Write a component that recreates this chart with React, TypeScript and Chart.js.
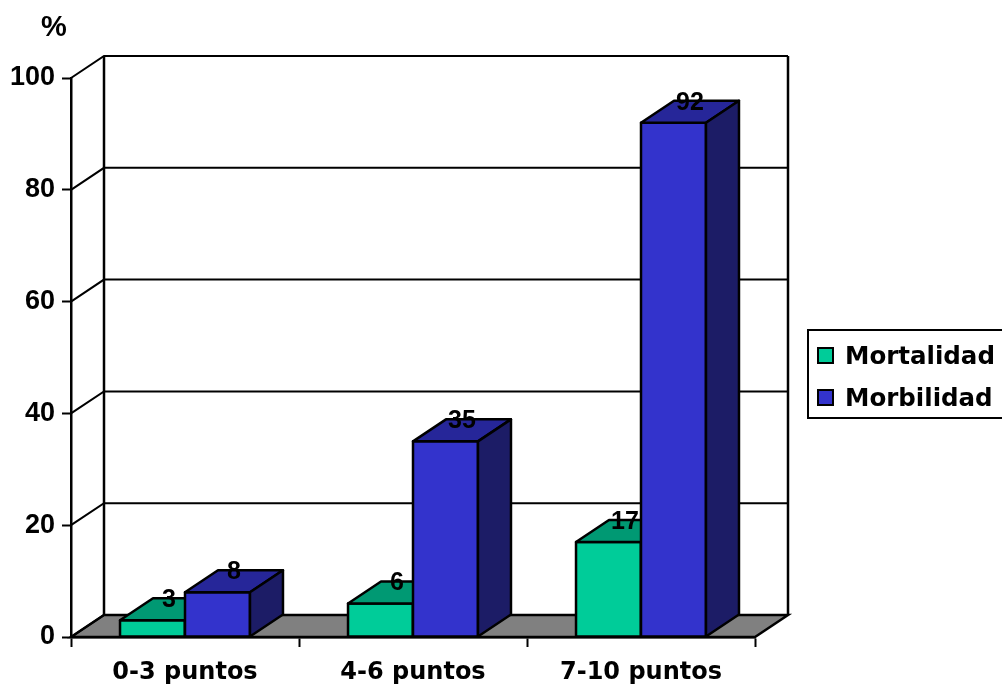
import { useEffect, useRef } from "react";
import { Chart, registerables } from "chart.js";

Chart.register(...registerables);

// Data
const categories = ["0-3 puntos", "4-6 puntos", "7-10 puntos"];
const seriesNames = ["Mortalidad", "Morbilidad"];
const mortalidad = [3, 6, 17];
const morbilidad = [8, 35, 92];
const yTicks = [0, 20, 40, 60, 80, 100];

// 3D look: depth offset of the boxes and walls
const DX = 33;
const DY = -22;
const faceColors = ["#00CC99", "#3333CC"];
const topColors = ["#009973", "#262699"];
const sideColors = ["#00664D", "#1C1C66"];

const NUM_FONT = "'Liberation Sans', Arial, sans-serif";
const TXT_FONT = "'DejaVu Sans', sans-serif";

const box3d = {
  id: "box3d",
  beforeDatasetsDraw(chart: any) {
    const { ctx, chartArea: a, scales } = chart;
    const ys = scales.y;
    ctx.save();
    ctx.lineWidth = 2;
    ctx.strokeStyle = "#000";
    ctx.lineJoin = "miter";
    // floor
    ctx.fillStyle = "#808080";
    ctx.beginPath();
    ctx.moveTo(a.left, a.bottom);
    ctx.lineTo(a.right, a.bottom);
    ctx.lineTo(a.right + DX, a.bottom + DY);
    ctx.lineTo(a.left + DX, a.bottom + DY);
    ctx.closePath();
    ctx.fill();
    ctx.lineWidth = 2.5;
    ctx.stroke();
    ctx.lineWidth = 2;
    // side wall diagonals + back wall grid lines
    for (const v of yTicks) {
      const py = ys.getPixelForValue(v);
      ctx.beginPath();
      ctx.moveTo(a.left, py);
      ctx.lineTo(a.left + DX, py + DY);
      ctx.lineTo(a.right + DX, py + DY);
      ctx.stroke();
    }
    // back wall edges
    ctx.lineWidth = 2.5;
    ctx.beginPath();
    ctx.moveTo(a.left + DX, a.top + DY);
    ctx.lineTo(a.left + DX, a.bottom + DY);
    ctx.moveTo(a.right + DX, a.top + DY);
    ctx.lineTo(a.right + DX, a.bottom + DY);
    ctx.stroke();
    ctx.restore();
  },
  afterDatasetsDraw(chart: any) {
    const { ctx } = chart;
    ctx.save();
    ctx.lineWidth = 2.5;
    ctx.strokeStyle = "#000";
    ctx.lineJoin = "round";
    for (let i = 0; i < categories.length; i++) {
      for (let d = 0; d < chart.data.datasets.length; d++) {
        const el = chart.getDatasetMeta(d).data[i];
        const { x, y, base, width } = el.getProps(["x", "y", "base", "width"], true);
        const l = x - width / 2;
        const r = x + width / 2;
        // front face
        ctx.fillStyle = faceColors[d];
        ctx.fillRect(l, y, r - l, base - y);
        ctx.strokeRect(l, y, r - l, base - y);
        // top face
        ctx.fillStyle = topColors[d];
        ctx.beginPath();
        ctx.moveTo(l, y);
        ctx.lineTo(l + DX, y + DY);
        ctx.lineTo(r + DX, y + DY);
        ctx.lineTo(r, y);
        ctx.closePath();
        ctx.fill();
        ctx.stroke();
        // right side face
        ctx.fillStyle = sideColors[d];
        ctx.beginPath();
        ctx.moveTo(r, y);
        ctx.lineTo(r + DX, y + DY);
        ctx.lineTo(r + DX, base + DY);
        ctx.lineTo(r, base);
        ctx.closePath();
        ctx.fill();
        ctx.stroke();
        // value label
        const v = chart.data.datasets[d].data[i];
        ctx.fillStyle = "#000";
        ctx.font = `bold 25px ${NUM_FONT}`;
        ctx.textAlign = "center";
        ctx.textBaseline = "alphabetic";
        ctx.fillText(String(v), x + DX / 2, y + DY + 9);
      }
    }
    ctx.restore();
  },
  afterDraw(chart: any) {
    const { ctx } = chart;
    ctx.save();
    // axis unit
    ctx.fillStyle = "#000";
    ctx.font = `bold 29px ${NUM_FONT}`;
    ctx.textAlign = "center";
    ctx.textBaseline = "alphabetic";
    ctx.fillText("%", 54, 36);
    // legend
    ctx.lineWidth = 2;
    ctx.strokeStyle = "#000";
    ctx.strokeRect(808, 330, 200, 88);
    const rows = [355, 397];
    ctx.font = `bold 24.5px ${TXT_FONT}`;
    ctx.textAlign = "left";
    for (let k = 0; k < seriesNames.length; k++) {
      const cy = rows[k];
      ctx.fillStyle = faceColors[k];
      ctx.fillRect(818, cy - 7, 15, 15);
      ctx.lineWidth = 2;
      ctx.strokeRect(818, cy - 7, 15, 15);
      ctx.fillStyle = "#000";
      ctx.fillText(seriesNames[k], 845, cy + 9);
    }
    ctx.restore();
  },
};

export default function App() {
  const ref = useRef<HTMLCanvasElement>(null);

  useEffect(() => {
    document.body.style.margin = "0";
    const canvas = ref.current;
    if (!canvas) return;
    const chart = new Chart(canvas, {
      type: "bar",
      data: {
        labels: categories,
        datasets: [
          {
            label: seriesNames[0],
            data: mortalidad,
            backgroundColor: faceColors[0],
            borderColor: "#000",
            borderWidth: 0,
            categoryPercentage: 0.57,
            barPercentage: 1,
          },
          {
            label: seriesNames[1],
            data: morbilidad,
            backgroundColor: faceColors[1],
            borderColor: "#000",
            borderWidth: 0,
            categoryPercentage: 0.57,
            barPercentage: 1,
          },
        ],
      },
      options: {
        responsive: false,
        animation: false,
        devicePixelRatio: 1,
        layout: { padding: { top: 78, right: 247, left: 0, bottom: 0 } },
        plugins: {
          legend: { display: false },
          tooltip: { enabled: false },
        },
        scales: {
          y: {
            min: 0,
            max: 100,
            afterFit: (s: any) => {
              s.width = 71;
            },
            afterBuildTicks: (s: any) => {
              s.ticks = yTicks.map((v) => ({ value: v }));
            },
            ticks: {
              color: "#000",
              padding: 7,
              font: { family: NUM_FONT, size: 27, weight: "bold" },
            },
            grid: {
              drawOnChartArea: false,
              tickLength: 9,
              tickColor: "#000",
              tickWidth: 2,
            },
            border: { display: true, color: "#000", width: 2.5 },
          },
          x: {
            afterFit: (s: any) => {
              s.height = 49;
            },
            ticks: {
              color: "#000",
              padding: 11,
              font: { family: TXT_FONT, size: 24, weight: "bold" },
            },
            grid: {
              drawOnChartArea: false,
              offset: true,
              tickLength: 10,
              tickColor: "#000",
              tickWidth: 2,
            },
            border: { display: true, color: "#000", width: 2.5 },
          },
        },
      },
      plugins: [box3d],
    });
    return () => chart.destroy();
  }, []);

  return <canvas ref={ref} width={1002} height={686} style={{ display: "block" }} />;
}
